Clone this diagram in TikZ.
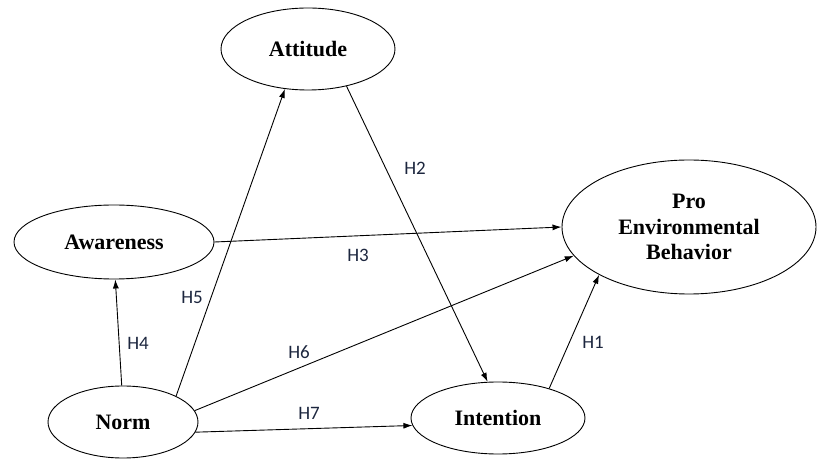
\documentclass[tikz,border=0pt]{standalone}
\usepackage{fontspec}
\setmainfont{Liberation Serif}
\newfontfamily\hypfont{Carlito}
\usetikzlibrary{shapes.geometric,arrows.meta}
\definecolor{hypcol}{RGB}{28,38,62}
\tikzset{
  construct/.style={draw, ellipse, line width=0.9pt, inner sep=0pt, align=center,
    font=\bfseries\fontsize{22}{25.5}\selectfont},
  link/.style={-{Latex[length=9pt,width=6pt]}, line width=0.9pt},
  hyp/.style={font=\hypfont\fontsize{19}{22}\selectfont, text=hypcol}
}
\begin{document}
\begin{tikzpicture}[x=1pt, y=1pt]
  \useasboundingbox (0,0) rectangle (817,466);
  % Constructs
  \node[construct, minimum width=174pt, minimum height=82pt] (att) at (308,417) {Attitude};
  \node[construct, minimum width=200pt, minimum height=74pt] (awa) at (114,224) {Awareness};
  \node[construct, minimum width=254pt, minimum height=134pt] (peb) at (689,239) {Pro\\Environmental\\Behavior};
  \node[construct, minimum width=150pt, minimum height=72pt] (norm) at (123,44) {Norm};
  \node[construct, minimum width=174pt, minimum height=72pt] (int) at (498,48) {Intention};
  % Paths
  \draw[link] (int.30) -- (peb.208);
  \draw[link] (att.316) -- (int.106);
  \draw[link] (awa.0) -- (peb.180);
  \draw[link] (norm.92) -- (awa.272);
  \draw[link] (norm.26) -- (att.240);
  \draw[link] (norm.9) -- (peb.194);
  \draw[link] (norm.352) -- (int.185);
  % Hypotheses
  \node[hyp] (h1) at (593,124) {H1};
  \node[hyp] (h2) at (415,298) {H2};
  \node[hyp] (h3) at (358,211) {H3};
  \node[hyp] (h4) at (138,123) {H4};
  \node[hyp] (h5) at (192,169) {H5};
  \node[hyp] (h6) at (299,114) {H6};
  \node[hyp] (h7) at (309,53) {H7};
\end{tikzpicture}
\end{document}
